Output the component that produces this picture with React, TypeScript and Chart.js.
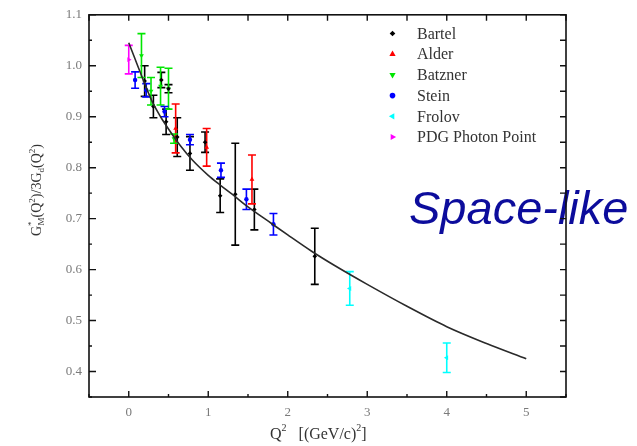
import React, { useEffect, useRef } from "react";
import { Chart, registerables } from "chart.js";

Chart.register(...registerables);

// ---- Data ----
const bartelQ2 = [0.2, 0.31, 0.41, 0.47, 0.5, 0.61, 0.77, 0.96, 1.15, 1.34, 1.58, 2.34];
const bartelG = [0.97, 0.92, 0.972, 0.89, 0.955, 0.86, 0.828, 0.85, 0.745, 0.748, 0.718, 0.626];
const bartelErr = [0.03, 0.022, 0.015, 0.025, 0.008, 0.038, 0.033, 0.02, 0.033, 0.1, 0.04, 0.055];

const alderQ2 = [0.59, 0.98, 1.55];
const alderG = [0.877, 0.84, 0.777];
const alderErr = [0.048, 0.037, 0.048];

const batznerQ2 = [0.16, 0.28, 0.4, 0.5, 0.57];
const batznerG = [1.02, 0.95, 0.96, 0.955, 0.857];
const batznerErr = [0.043, 0.027, 0.037, 0.04, 0.009];

const steinQ2 = [0.08, 0.22, 0.45, 0.77, 1.16, 1.48, 1.82];
const steinG = [0.972, 0.952, 0.91, 0.855, 0.795, 0.738, 0.689];
const steinErr = [0.016, 0.013, 0.01, 0.01, 0.014, 0.02, 0.021];

const frolovQ2 = [2.78, 4.0];
const frolovG = [0.563, 0.427];
const frolovErr = [0.033, 0.029];

const pdgQ2 = [0.0];
const pdgG = [1.012];
const pdgErr = [0.028];

const curveQ2 = [0, 0.1, 0.2, 0.3, 0.4, 0.5, 0.65, 0.8, 1.0, 1.15, 1.3, 1.5, 1.8, 2.0, 2.3, 2.6, 3.0, 3.5, 4.0, 4.5, 5.0];
const curveG = [1.045, 1.005, 0.965, 0.928, 0.9, 0.876, 0.843, 0.815, 0.785, 0.766, 0.748, 0.723, 0.69, 0.668, 0.636, 0.607, 0.571, 0.528, 0.488, 0.455, 0.425];

const xLabelTicks = [0, 1, 2, 3, 4, 5];
const yLabelTicks = [0.4, 0.5, 0.6, 0.7, 0.8, 0.9, 1.0, 1.1];
const xMinorTicks = [-0.5, 0.5, 1.5, 2.5, 3.5, 4.5, 5.5];
const yMinorTicks = [0.35, 0.45, 0.55, 0.65, 0.75, 0.85, 0.95, 1.05];

const legendLabels = ["Bartel", "Alder", "Batzner", "Stein", "Frolov", "PDG Photon Point"];
const legendColors = ["#000000", "#ff0000", "#00e600", "#0000ff", "#00ffff", "#ff00ff"];
const legendStyles = ["rectRot", "triangle", "triangle", "circle", "triangle", "triangle"];
const legendRotations = [0, 0, 180, 0, -90, 90];

const toPts = (xs: number[], ys: number[]) => xs.map((x, i) => ({ x, y: ys[i] }));

function drawMarker(ctx: CanvasRenderingContext2D, style: string, rot: number, x: number, y: number, r: number, color: string) {
  ctx.save();
  ctx.fillStyle = color;
  ctx.beginPath();
  if (style === "circle") {
    ctx.arc(x, y, r, 0, Math.PI * 2);
  } else if (style === "rectRot") {
    ctx.moveTo(x, y - r);
    ctx.lineTo(x + r, y);
    ctx.lineTo(x, y + r);
    ctx.lineTo(x - r, y);
    ctx.closePath();
  } else {
    const a0 = ((rot - 90) * Math.PI) / 180;
    for (let k = 0; k < 3; k++) {
      const a = a0 + (k * 2 * Math.PI) / 3;
      const px = x + r * Math.cos(a);
      const py = y + r * Math.sin(a);
      if (k === 0) ctx.moveTo(px, py);
      else ctx.lineTo(px, py);
    }
    ctx.closePath();
  }
  ctx.fill();
  ctx.restore();
}

const errorBarPlugin = {
  id: "errorBars",
  beforeDatasetsDraw(chart: any) {
    const ctx = chart.ctx as CanvasRenderingContext2D;
    const xs = chart.scales.x;
    const ys = chart.scales.y;
    chart.data.datasets.forEach((ds: any) => {
      if (!ds.errorBars) return;
      ctx.save();
      ctx.strokeStyle = ds.borderColor;
      ctx.lineWidth = 1.6;
      ds.data.forEach((p: any, i: number) => {
        const e = ds.errorBars[i];
        const px = xs.getPixelForValue(p.x);
        const top = ys.getPixelForValue(p.y + e);
        const bot = ys.getPixelForValue(p.y - e);
        ctx.beginPath();
        ctx.moveTo(px, top);
        ctx.lineTo(px, bot);
        ctx.moveTo(px - 4, top);
        ctx.lineTo(px + 4, top);
        ctx.moveTo(px - 4, bot);
        ctx.lineTo(px + 4, bot);
        ctx.stroke();
      });
      ctx.restore();
    });
  },
};

const decorPlugin = {
  id: "decor",
  afterDraw(chart: any) {
    const ctx = chart.ctx as CanvasRenderingContext2D;
    const { left, right, top, bottom } = chart.chartArea;
    const xs = chart.scales.x;
    const ys = chart.scales.y;

    // "Space-like" label
    ctx.save();
    ctx.font = 'italic 47px "Liberation Sans", Arial, sans-serif';
    ctx.fillStyle = "#0c0c9c";
    ctx.textBaseline = "alphabetic";
    ctx.fillText("Space-like", 409, 224);
    ctx.restore();

    // frame
    ctx.save();
    ctx.strokeStyle = "#111";
    ctx.lineWidth = 1.6;
    ctx.strokeRect(left, top, right - left, bottom - top);
    ctx.lineWidth = 1.4;
    ctx.beginPath();
    xLabelTicks.forEach((v) => {
      const px = xs.getPixelForValue(v);
      ctx.moveTo(px, bottom);
      ctx.lineTo(px, bottom - 6);
      ctx.moveTo(px, top);
      ctx.lineTo(px, top + 6);
    });
    xMinorTicks.forEach((v) => {
      const px = xs.getPixelForValue(v);
      ctx.moveTo(px, bottom);
      ctx.lineTo(px, bottom - 3);
      ctx.moveTo(px, top);
      ctx.lineTo(px, top + 6);
    });
    yLabelTicks.forEach((v) => {
      const py = ys.getPixelForValue(v);
      ctx.moveTo(left, py);
      ctx.lineTo(left + 7, py);
      ctx.moveTo(right, py);
      ctx.lineTo(right - 6, py);
    });
    yMinorTicks.forEach((v) => {
      const py = ys.getPixelForValue(v);
      ctx.moveTo(left, py);
      ctx.lineTo(left + 3, py);
      ctx.moveTo(right, py);
      ctx.lineTo(right - 6, py);
    });
    ctx.stroke();
    ctx.restore();

    // legend
    ctx.save();
    ctx.font = '16px "Liberation Serif", "Times New Roman", serif';
    ctx.fillStyle = "#333";
    ctx.textBaseline = "middle";
    legendLabels.forEach((lab, i) => {
      const y = 33.5 + i * 20.7;
      const st = legendStyles[i];
      drawMarker(ctx, st, legendRotations[i], 392.5, y, st === "circle" ? 2.8 : st === "rectRot" ? 2.8 : 3.6, legendColors[i]);
      ctx.fillText(lab, 417, y + 1);
    });
    ctx.restore();

    // x axis title
    ctx.save();
    ctx.fillStyle = "#333";
    ctx.textBaseline = "alphabetic";
    let cx = 270;
    const by = 439;
    const seg = (t: string, size: number, dy: number) => {
      ctx.font = `${size}px "Liberation Serif", "Times New Roman", serif`;
      ctx.fillText(t, cx, by + dy);
      cx += ctx.measureText(t).width;
    };
    seg("Q", 16, 0);
    seg("2", 10, -8);
    seg("   [(GeV/c)", 16, 0);
    seg("2", 10, -8);
    seg("]", 16, 0);
    ctx.restore();

    // y axis title
    ctx.save();
    ctx.fillStyle = "#333";
    ctx.translate(41, 188);
    ctx.rotate(-Math.PI / 2);
    ctx.textBaseline = "alphabetic";
    const parts: [string, number, number][] = [
      ["G", 14, 0], ["*", 9, -7], ["M", 9, 3], ["(Q", 14, 0], ["2", 9, -6], [")/3G", 14, 0], ["d", 9, 3], ["(Q", 14, 0], ["2", 9, -6], [")", 14, 0],
    ];
    let total = 0;
    parts.forEach(([t, s]) => {
      ctx.font = `${s}px "Liberation Serif", "Times New Roman", serif`;
      total += ctx.measureText(t).width;
    });
    let tx = -total / 2;
    parts.forEach(([t, s, dy], idx) => {
      ctx.font = `${s}px "Liberation Serif", "Times New Roman", serif`;
      if (idx === 2) tx -= ctx.measureText("*").width * 0.9;
      ctx.fillText(t, tx, dy);
      tx += ctx.measureText(t).width;
    });
    ctx.restore();
  },
};

export default function App() {
  const ref = useRef<HTMLCanvasElement | null>(null);
  useEffect(() => {
    if (!ref.current) return;
    const mk = (label: string, xs: number[], ys: number[], errs: number[], color: string, style: string, rot: number, r: number) => ({
      type: "scatter" as const,
      label,
      data: toPts(xs, ys),
      errorBars: errs,
      borderColor: color,
      backgroundColor: color,
      pointStyle: style,
      rotation: rot,
      pointRadius: r,
      pointBorderWidth: 0,
      showLine: false,
    });
    const chart = new Chart(ref.current, {
      type: "scatter",
      data: {
        datasets: [
          {
            type: "line" as const,
            label: "model",
            data: toPts(curveQ2, curveG),
            borderColor: "#2a2a2a",
            borderWidth: 1.6,
            pointRadius: 0,
            cubicInterpolationMode: "monotone",
            fill: false,
            showLine: true,
          } as any,
          mk("Bartel", bartelQ2, bartelG, bartelErr, "#000000", "rectRot", 0, 2.3),
          mk("Alder", alderQ2, alderG, alderErr, "#ff0000", "triangle", 0, 2.8),
          mk("Batzner", batznerQ2, batznerG, batznerErr, "#00e600", "triangle", 180, 2.8),
          mk("Stein", steinQ2, steinG, steinErr, "#0000ff", "circle", 0, 2.2),
          mk("Frolov", frolovQ2, frolovG, frolovErr, "#00ffff", "triangle", -90, 2.8),
          mk("PDG Photon Point", pdgQ2, pdgG, pdgErr, "#ff00ff", "triangle", 90, 2.8),
        ] as any,
      },
      options: {
        animation: false,
        responsive: false,
        maintainAspectRatio: false,
        layout: { padding: { left: 0, top: 13, right: 71, bottom: 0 } },
        plugins: { legend: { display: false }, tooltip: { enabled: false } },
        scales: {
          x: {
            type: "linear",
            min: -0.5,
            max: 5.5,
            grid: { display: false, drawTicks: false },
            border: { display: false },
            afterBuildTicks: (s: any) => {
              s.ticks = xLabelTicks.map((v) => ({ value: v }));
            },
            afterFit: (s: any) => {
              s.height = 49;
            },
            ticks: {
              padding: 8,
              maxRotation: 0,
              autoSkip: false,
              color: "#7a7a7a",
              font: { family: '"Liberation Serif", "Times New Roman", serif', size: 13 },
              callback: (v: any) => String(v),
            },
          },
          y: {
            type: "linear",
            min: 0.35,
            max: 1.1,
            grid: { display: false, drawTicks: false },
            border: { display: false },
            afterBuildTicks: (s: any) => {
              s.ticks = yLabelTicks.map((v) => ({ value: v }));
            },
            afterFit: (s: any) => {
              s.width = 89;
            },
            ticks: {
              padding: 7,
              autoSkip: false,
              color: "#7a7a7a",
              font: { family: '"Liberation Serif", "Times New Roman", serif', size: 13 },
              callback: (v: any) => Number(v).toFixed(1),
            },
          },
        },
      } as any,
      plugins: [errorBarPlugin, decorPlugin],
    });
    return () => chart.destroy();
  }, []);

  return (
    <div style={{ position: "fixed", left: 0, top: 0, width: 637, height: 446, background: "#fff" }}>
      <canvas ref={ref} width={637} height={446} style={{ display: "block", width: 637, height: 446 }} />
    </div>
  );
}
